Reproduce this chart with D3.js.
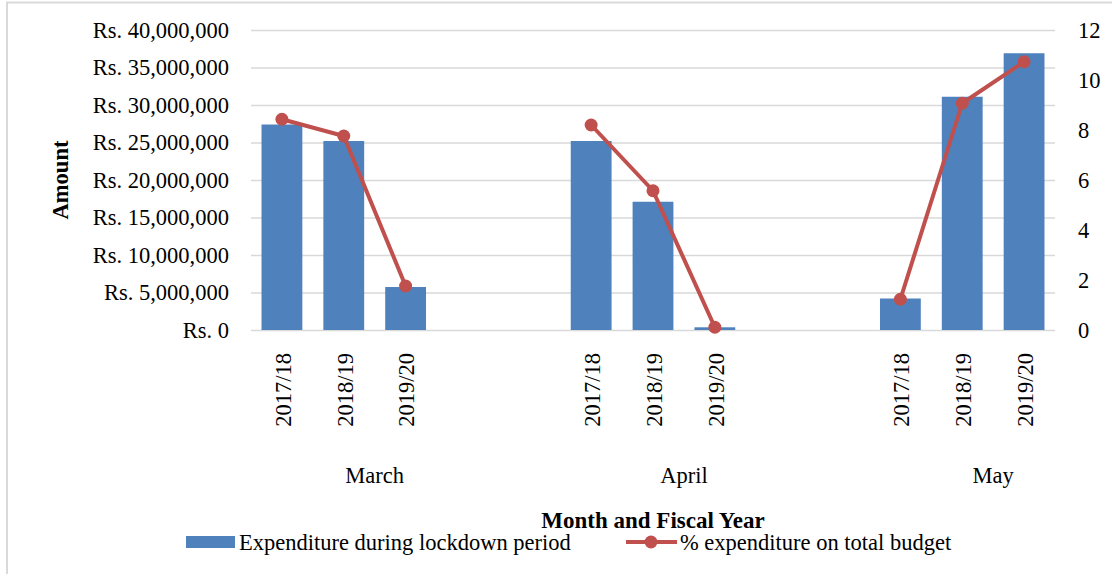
<!DOCTYPE html>
<html>
<head>
<meta charset="utf-8">
<script src="https://cdn.jsdelivr.net/npm/d3@7"></script>
<style>
  html, body { margin: 0; padding: 0; background: #fff; }
  svg { display: block; font-family: "Liberation Serif", "Times New Roman", serif; }
</style>
</head>
<body>
<div id="chart"></div>
<script>
// data
const months = ["March", "April", "May"];
const fiscalYears = ["2017/18", "2018/19", "2019/20"];
// expenditure during lockdown period (Rs.), one row per month
const expenditure = [
  [27400000, 25200000, 5730000],
  [25200000, 17100000, 360000],
  [4200000, 31100000, 36900000]
];
// % expenditure on total budget, one row per month
const pctBudget = [
  [8.43, 7.76, 1.76],
  [8.2, 5.57, 0.11],
  [1.23, 9.07, 10.73]
];
const amountTicks = [0, 5000000, 10000000, 15000000, 20000000, 25000000, 30000000, 35000000, 40000000];
const pctTicks = [0, 2, 4, 6, 8, 10, 12];
const gapsBetweenMonths = 2;

let width = 1112, height = 574;
let plot = {left: 251, right: 1055, top: 30, bottom: 330};
let barColor = "#4f81bd", lineColor = "#c0504d", gridColor = "#d9d9d9";
let fontSize = "22.5px";

// category slots: 3 years per month, with blank slots between months
let slots = [];
months.forEach((m, mi) => {
  fiscalYears.forEach(fy => slots.push(m + "|" + fy));
  if (mi < months.length - 1) {
    for (let g = 0; g < gapsBetweenMonths; g++) slots.push("gap" + mi + "_" + g);
  }
});

let rows = [];
months.forEach((m, mi) => {
  fiscalYears.forEach((fy, fi) => {
    rows.push({month: m, fy: fy, key: m + "|" + fy, amount: expenditure[mi][fi], pct: pctBudget[mi][fi]});
  });
});

let x = d3.scaleBand()
  .domain(slots)
  .range([plot.left, plot.right])
  .paddingInner(0.34)
  .paddingOuter(0.17);

let yLeft = d3.scaleLinear().domain([0, 40000000]).range([plot.bottom, plot.top]);
let yRight = d3.scaleLinear().domain([0, 12]).range([plot.bottom, plot.top]);

let svg = d3.select("#chart").append("svg")
  .attr("width", width)
  .attr("height", height);

svg.append("rect").attr("width", width).attr("height", height).attr("fill", "#fff");

// frame (only the left and top edges are visible)
svg.append("path")
  .attr("d", `M7,${height} V2.5 H${width}`)
  .attr("fill", "none")
  .attr("stroke", gridColor)
  .attr("stroke-width", 2);

// left axis with gridlines
let axeLeft = d3.axisLeft(yLeft)
  .tickValues(amountTicks)
  .tickSizeInner(-(plot.right - plot.left))
  .tickSizeOuter(0)
  .tickPadding(22)
  .tickFormat(d => "Rs. " + d3.format(",")(d));

let gLeft = svg.append("g")
  .attr("transform", `translate(${plot.left},0)`)
  .call(axeLeft);
gLeft.select(".domain").remove();
gLeft.selectAll(".tick line").attr("stroke", gridColor).attr("stroke-width", 1.3);
gLeft.selectAll(".tick text")
  .attr("fill", "#000")
  .style("font-size", fontSize)
  .style("font-family", "Liberation Serif, serif");

// right axis
let axeRight = d3.axisRight(yRight)
  .tickValues(pctTicks)
  .tickSize(0)
  .tickPadding(23);

let gRight = svg.append("g")
  .attr("transform", `translate(${plot.right},0)`)
  .call(axeRight);
gRight.select(".domain").remove();
gRight.selectAll(".tick text")
  .attr("fill", "#000")
  .style("font-size", fontSize)
  .style("font-family", "Liberation Serif, serif");

// bars
svg.selectAll("rect.bar")
  .data(rows)
  .enter()
  .append("rect")
    .attr("class", "bar")
    .attr("x", d => x(d.key))
    .attr("y", d => yLeft(d.amount))
    .attr("width", x.bandwidth())
    .attr("height", d => yLeft(0) - yLeft(d.amount))
    .attr("fill", barColor);

// line, broken between months
let line = d3.line()
  .x(d => x(d.key) + x.bandwidth() / 2)
  .y(d => yRight(d.pct));

months.forEach(m => {
  let seg = rows.filter(r => r.month === m);
  svg.append("path")
    .datum(seg)
    .attr("d", line)
    .attr("fill", "none")
    .attr("stroke", lineColor)
    .attr("stroke-width", 4)
    .attr("stroke-linejoin", "round");
});

svg.selectAll("circle.pt")
  .data(rows)
  .enter()
  .append("circle")
    .attr("class", "pt")
    .attr("cx", d => x(d.key) + x.bandwidth() / 2)
    .attr("cy", d => yRight(d.pct))
    .attr("r", 6.5)
    .attr("fill", lineColor);

// fiscal year labels (rotated)
svg.selectAll("text.fy")
  .data(rows)
  .enter()
  .append("text")
    .attr("class", "fy")
    .attr("transform", d => `translate(${x(d.key) + x.bandwidth() / 2 + 1},353) rotate(-90)`)
    .attr("text-anchor", "end")
    .attr("dy", "0.35em")
    .style("font-size", fontSize)
    .text(d => d.fy);

// month labels
svg.selectAll("text.month")
  .data(months)
  .enter()
  .append("text")
    .attr("class", "month")
    .attr("x", m => x(m + "|" + fiscalYears[0]) + x.bandwidth() / 2 + 1.5 * x.step())
    .attr("y", 483)
    .attr("text-anchor", "middle")
    .style("font-size", fontSize)
    .text(m => m);

// axis titles
svg.append("text")
  .attr("transform", "translate(68,180) rotate(-90)")
  .attr("text-anchor", "middle")
  .style("font-size", fontSize)
  .style("font-weight", "bold")
  .text("Amount");

svg.append("text")
  .attr("x", (plot.left + plot.right) / 2)
  .attr("y", 528)
  .attr("text-anchor", "middle")
  .style("font-size", "23px")
  .style("font-weight", "bold")
  .text("Month and Fiscal Year");

// legend
let legend = svg.append("g");
legend.append("rect")
  .attr("x", 186).attr("y", 536)
  .attr("width", 49).attr("height", 12)
  .attr("fill", barColor);
legend.append("text")
  .attr("x", 239).attr("y", 550)
  .style("font-size", fontSize)
  .text("Expenditure during lockdown period");

legend.append("line")
  .attr("x1", 626).attr("x2", 677)
  .attr("y1", 542).attr("y2", 542)
  .attr("stroke", lineColor)
  .attr("stroke-width", 4);
legend.append("circle")
  .attr("cx", 651).attr("cy", 542)
  .attr("r", 6.5)
  .attr("fill", lineColor);
legend.append("text")
  .attr("x", 680).attr("y", 550)
  .style("font-size", fontSize)
  .text("% expenditure on total budget");
</script>
</body>
</html>
